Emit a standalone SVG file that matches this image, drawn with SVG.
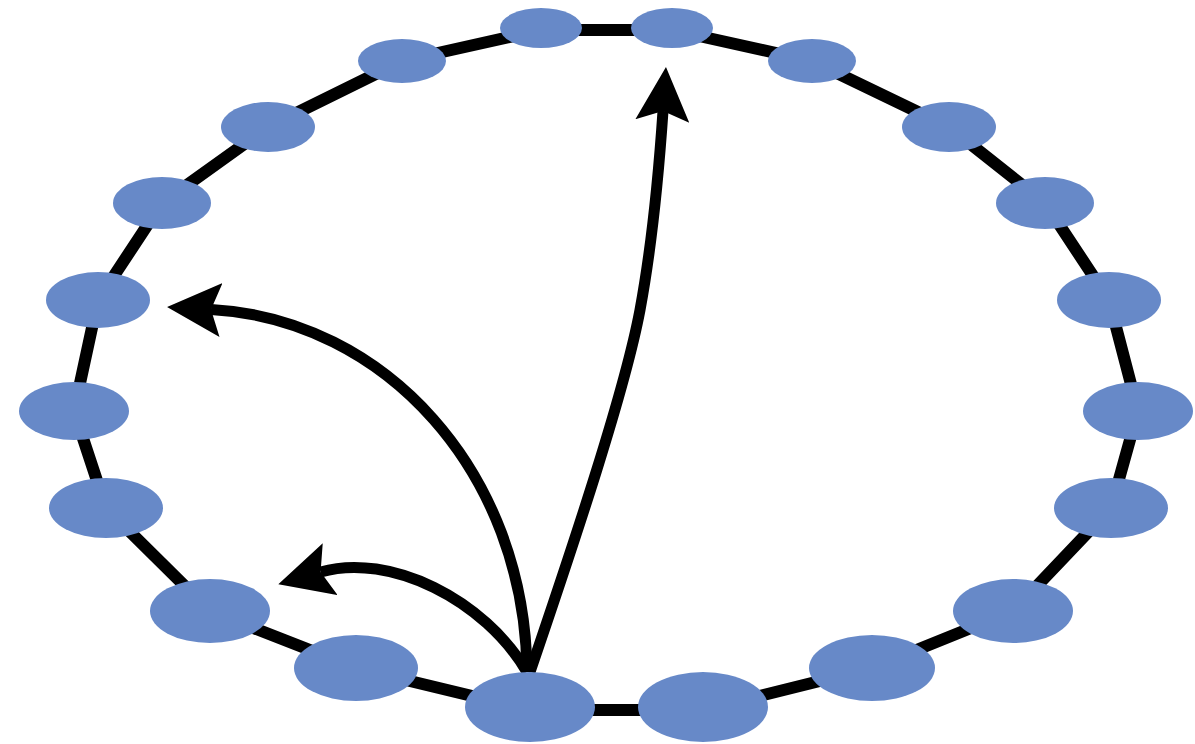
<svg xmlns="http://www.w3.org/2000/svg" width="1195" height="744" viewBox="0 0 1195 744">
<style>
.ring{fill:none;stroke:#000;stroke-width:12;stroke-linejoin:round}
.edge{fill:none;stroke:#000;stroke-width:11}
.node ellipse{fill:#6789c8}
</style>
<defs>
<marker id="head" markerUnits="userSpaceOnUse" viewBox="0 -27 54 54" markerWidth="54" markerHeight="54" refX="10" refY="0" orient="auto">
<path d="M54,0 L0,-27 L10,0 L0,27 Z" fill="#000"/>
</marker>
</defs>
<rect width="1195" height="744" fill="#fff"/>
<g id="connectors">
<polygon class="ring" points="672,30 812,61 949,127 1045,203 1109,300 1138,411 1111,508 1013,611 872,668 703,710 530,710 356,668 210,611 106,508 74,411 98,300 162,203 268,127 402,61 541,30"/>
<path class="edge" d="M530,672 C575,540 625,390 640,310 C652,245 659,170 663,111" marker-end="url(#head)"/>
<path class="edge" d="M527,672 C525,472 385,319 211,309.5" marker-end="url(#head)"/>
<path class="edge" d="M527,672 C485,600 390,552 320.6,572" marker-end="url(#head)"/>
</g>
<g id="n1" class="node"><ellipse cx="541" cy="28" rx="41" ry="20"/></g>
<g id="n2" class="node"><ellipse cx="672" cy="28" rx="41" ry="20"/></g>
<g id="n3" class="node"><ellipse cx="812" cy="61" rx="44" ry="22"/></g>
<g id="n4" class="node"><ellipse cx="949" cy="127" rx="47" ry="25"/></g>
<g id="n5" class="node"><ellipse cx="1045" cy="203" rx="49" ry="26"/></g>
<g id="n6" class="node"><ellipse cx="1109" cy="300" rx="52" ry="28"/></g>
<g id="n7" class="node"><ellipse cx="1138" cy="411" rx="55" ry="29"/></g>
<g id="n8" class="node"><ellipse cx="1111" cy="508" rx="57" ry="30"/></g>
<g id="n9" class="node"><ellipse cx="1013" cy="611" rx="60" ry="32"/></g>
<g id="n10" class="node"><ellipse cx="872" cy="668" rx="63" ry="33"/></g>
<g id="n11" class="node"><ellipse cx="703" cy="707" rx="65" ry="35"/></g>
<g id="n12" class="node"><ellipse cx="530" cy="707" rx="65" ry="35"/></g>
<g id="n13" class="node"><ellipse cx="356" cy="668" rx="62" ry="33"/></g>
<g id="n14" class="node"><ellipse cx="210" cy="611" rx="60" ry="32"/></g>
<g id="n15" class="node"><ellipse cx="106" cy="508" rx="57" ry="30"/></g>
<g id="n16" class="node"><ellipse cx="74" cy="411" rx="55" ry="29"/></g>
<g id="n17" class="node"><ellipse cx="98" cy="300" rx="52" ry="28"/></g>
<g id="n18" class="node"><ellipse cx="162" cy="203" rx="49" ry="26"/></g>
<g id="n19" class="node"><ellipse cx="268" cy="127" rx="47" ry="25"/></g>
<g id="n20" class="node"><ellipse cx="402" cy="61" rx="44" ry="22"/></g>
</svg>
